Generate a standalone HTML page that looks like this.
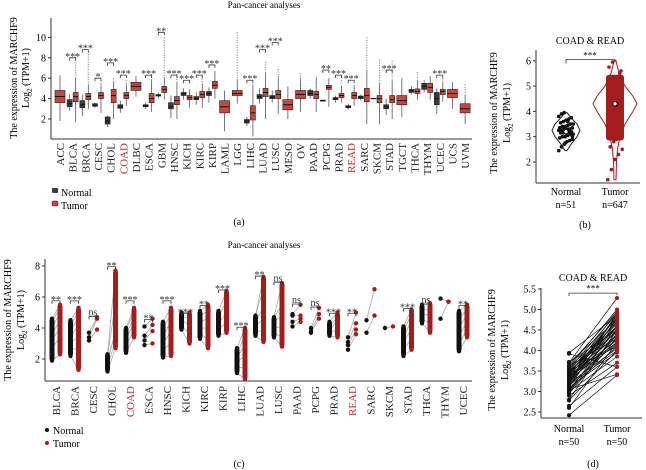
<!DOCTYPE html>
<html><head><meta charset="utf-8"><style>
html,body{margin:0;padding:0;background:#fff;}
svg{display:block;font-family:"Liberation Serif",serif;}
</style></head><body>
<svg id="fig" width="646" height="470" viewBox="0 0 646 470" xmlns="http://www.w3.org/2000/svg">
<g id="pa"></g>
<g id="pb"></g>
<g id="pc"></g>
<g id="pd"></g>
</svg>
<script>
const NS="http://www.w3.org/2000/svg";
function mk(parent,tag,attrs,txt){const e=document.createElementNS(NS,tag);for(const k in attrs)e.setAttribute(k,attrs[k]);if(txt!==undefined)e.textContent=txt;parent.appendChild(e);return e;}
const RED="#c8473d", DRED="#a51c1c", DARK="#3b3b3b";

// ---------- Panel A data ----------
const catsA=["ACC","BLCA","BRCA","CESC","CHOL","COAD","DLBC","ESCA","GBM","HNSC","KICH","KIRC","KIRP","LAML","LGG","LIHC","LUAD","LUSC","MESO","OV","PAAD","PCPG","PRAD","READ","SARC","SKCM","STAD","TGCT","THCA","THYM","UCEC","UCS","UVM"];
const normA=[null,[2.8,3.2,3.5,3.9,4.4],[2.3,3.1,3.4,3.8,4.4],[3.1,3.25,3.35,3.5,3.6],[1.2,1.5,1.8,2.2,2.3],[2.6,3.05,3.2,3.4,3.8],null,[3.0,3.2,3.3,3.4,3.6],[4.0,4.25,4.3,4.4,4.6],[2.1,3.0,3.2,3.6,4.3],[3.9,4.3,4.5,4.6,5.0],[3.4,3.9,4.0,4.2,4.6],[3.6,4.3,4.5,4.7,5.1],null,null,[1.3,1.6,1.8,1.95,2.2],[3.5,4.0,4.2,4.4,5.0],[3.6,4.0,4.15,4.3,4.8],null,null,[4.0,4.3,4.5,4.8,5.0],[3.7,3.75,3.8,3.85,3.9],[3.6,3.9,4.0,4.1,4.3],[2.9,3.1,3.2,3.3,3.5],[3.8,4.0,4.15,4.25,4.4],[3.95,3.98,4.0,4.02,4.05],[2.4,3.0,3.2,3.4,4.0],null,[4.4,4.6,4.8,4.9,5.2],[4.6,4.9,5.2,5.5,5.8],[2.5,3.4,4.0,4.6,5.0],null,null];
const tumA=[[1.8,3.6,4.2,4.8,6.3],[1.7,3.7,4.2,4.6,6.1],[3.0,3.9,4.2,4.5,5.4],[2.6,4.0,4.3,4.6,5.4],[2.0,3.6,4.3,4.9,5.7],[3.3,4.0,4.3,4.6,5.4],[4.2,4.8,5.2,5.6,6.2],[2.7,3.6,4.0,4.5,5.8],[3.9,4.6,4.9,5.2,6.1],[2.0,3.4,3.8,4.2,5.6],[3.1,3.9,4.1,4.3,4.9],[3.1,4.1,4.4,4.7,5.5],[4.0,5.0,5.3,5.7,6.7],[0.8,2.6,3.2,3.8,4.8],[3.5,4.3,4.5,4.8,5.9],[0.3,1.9,2.6,3.3,5.4],[2.0,4.2,4.6,5.0,6.5],[2.5,4.0,4.4,4.8,6.2],[2.0,2.9,3.4,3.9,5.2],[2.7,4.0,4.4,4.8,5.9],[2.7,4.0,4.4,4.7,6.1],[3.2,4.9,5.1,5.3,6.0],[3.6,4.1,4.3,4.5,5.2],[3.3,4.0,4.3,4.6,5.3],[1.5,3.7,4.3,5.0,6.8],[1.5,3.6,4.0,4.3,5.5],[2.0,3.6,3.9,4.3,5.8],[2.2,3.4,3.8,4.3,5.9],[3.9,4.5,4.7,4.95,5.8],[3.9,4.6,5.1,5.5,6.2],[3.7,4.4,4.7,4.9,5.6],[3.0,4.1,4.5,4.9,5.6],[1.5,2.6,3.0,3.5,4.4]];
const outHiA=[null,8.3,8.6,5.8,6.0,5.8,null,6.4,10.0,6.4,null,6.2,null,null,10.5,null,7.6,6.9,null,6.5,null,null,5.8,null,10.0,7.8,7.7,6.0,6.6,null,6.0,null,5.4];
const sigA=[null,"***","***","*","***","***",null,"***","**","***","***","***","***",null,null,"***","***","***",null,null,null,"**","***","***",null,null,"***",null,null,null,"***",null,null];
const sigLvA=[0,8.5,9.3,6.5,8.0,6.8,0,6.8,11.0,6.8,6.3,6.8,7.8,0,0,6.3,9.3,10.0,0,0,0,7.3,6.8,6.3,0,0,7.3,0,0,0,6.8,0,0];
const ticksA=[2,4,6,8,10];

(function(){
const g=document.getElementById('pa');
const xA=i=>60+i*12.66, yA=v=>119-(v-2)*10.2;
mk(g,'text',{x:264,y:8,'font-size':9,'text-anchor':'middle',},"Pan-cancer analyses");
mk(g,'line',{x1:51,y1:18,x2:51,y2:139,stroke:'#333','stroke-width':1,});
mk(g,'line',{x1:51,y1:139,x2:472,y2:139,stroke:'#333','stroke-width':1,});
ticksA.forEach(t=>{mk(g,'line',{x1:48,x2:51,y1:yA(t),y2:yA(t),stroke:'#333'});
 const tt=mk(g,'text',{x:46,y:yA(t)+3.5,'font-size':10,'text-anchor':'end'},String(t));
 });
const yt=mk(g,'text',{transform:'translate(17,78) rotate(-90)','font-size':10,'text-anchor':'middle'},"The expression of MARCHF9");

const yt2=mk(g,'text',{transform:'translate(29,78) rotate(-90)','font-size':10,'text-anchor':'middle'});
yt2.innerHTML='Log<tspan font-size="7" dy="3">2</tspan><tspan dy="-3"> (TPM+1)</tspan>';

function box(cx,w,d,fill,nm){
 const b=mk(g,'g',{});
 mk(b,'line',{x1:cx,x2:cx,y1:yA(d[0]),y2:yA(d[4]),stroke:'#555','stroke-width':0.8});
 mk(b,'rect',{x:cx-w/2,y:yA(d[3]),width:w,height:yA(d[1])-yA(d[3]),fill:fill,stroke:'#222','stroke-width':0.6});
 mk(b,'line',{x1:cx-w/2,x2:cx+w/2,y1:yA(d[2]),y2:yA(d[2]),stroke:'#111','stroke-width':1});
}
catsA.forEach((c,i)=>{
 const cx=xA(i);
 const n=normA[i], t=tumA[i];
 let tx=cx;
 if(n){box(cx-3,5,n,DARK,'box-normal-'+c.toLowerCase());tx=cx+3;box(tx,5,t,RED,'box-tumor-'+c.toLowerCase());}
 else box(cx,10,t,RED,'box-tumor-'+c.toLowerCase());
 if(outHiA[i]){const o=mk(g,'line',{x1:tx,x2:tx,y1:yA(outHiA[i]),y2:yA(t[4]),stroke:'#888','stroke-width':1.2,'stroke-dasharray':'1 1.5'});
  }
 if(sigA[i]){const ly=yA(sigLvA[i]-0.5);
  const br=mk(g,'path',{d:`M${cx-3},${ly+3}V${ly}H${cx+3}V${ly+3}`,fill:'none',stroke:'#333','stroke-width':0.8});
  
  const st=mk(g,'text',{x:cx,y:ly+2,'font-size':10,'text-anchor':'middle',fill:'#333'},sigA[i]);
  }
 const lb=mk(g,'text',{transform:`translate(${cx+4},143) rotate(-90)`,'font-size':11,'text-anchor':'end',fill:(c==="COAD"||c==="READ")?'#c0282d':'#222'},c);
 
});
const l1=mk(g,'g',{});
mk(l1,'rect',{x:52,y:188,width:6,height:5,fill:DARK,rx:1});mk(l1,'text',{x:61,y:196,'font-size':10},"Normal");
const l2=mk(g,'g',{});
mk(l2,'rect',{x:52,y:201,width:6,height:5,fill:RED,stroke:'#222','stroke-width':0.5,rx:1});mk(l2,'text',{x:61,y:209,'font-size':10},"Tumor");
const pl=mk(g,'text',{x:239,y:225,'font-size':10,'text-anchor':'middle'},"(a)");
})();

// ---------- Panel B data ----------
const normB=[2.45,2.6,2.7,2.8,2.85,2.9,2.95,3.0,3.0,3.05,3.1,3.1,3.15,3.15,3.2,3.2,3.2,3.25,3.25,3.3,3.3,3.3,3.35,3.35,3.4,3.4,3.45,3.5,3.5,3.55,3.6,3.65,3.7,3.75,3.8,3.9,3.95,3.1,3.2,3.0,3.3,3.4,2.75,3.6,3.15];
const tumOutB=[1.3,1.7,2.1,2.3,2.5,2.6,2.8,2.95,5.6,5.75,5.95,2.9,5.5];
const tumRangeB=[2.85,5.45];
const medB=[3.2,4.3];
const violinVals=[1.3,2.0,2.5,3.0,3.5,4.0,4.3,4.6,5.0,5.5,6.0];
const violinTumW=[1,1.5,2.5,5,10,18,22,18,10,4,1];
const violinNormVals=[2.45,2.7,3.0,3.25,3.5,3.75,3.95];
const violinNormW=[1,5,11,14,11,5,1];
const ticksB=[2,3,4,5,6];

(function(){
const g=document.getElementById('pb');
const yB=v=>162-(v-2)*25.3, xN=566, xT=615;
mk(g,'text',{x:590,y:44,'font-size':10,'text-anchor':'middle',},"COAD & READ");
mk(g,'line',{x1:536,y1:50,x2:536,y2:183,stroke:'#333',});
mk(g,'line',{x1:536,y1:183,x2:640,y2:183,stroke:'#333',});
ticksB.forEach(t=>{mk(g,'line',{x1:533,x2:536,y1:yB(t),y2:yB(t),stroke:'#333'});
 const tt=mk(g,'text',{x:531,y:yB(t)+3.5,'font-size':10,'text-anchor':'end'},String(t));
 });
const a=mk(g,'text',{transform:'translate(497,113) rotate(-90)','font-size':10,'text-anchor':'middle'},"The expression of MARCHF9");

const b=mk(g,'text',{transform:'translate(510,113) rotate(-90)','font-size':10,'text-anchor':'middle'});
b.innerHTML='Log<tspan font-size="7" dy="3">2</tspan><tspan dy="-3"> (TPM+1)</tspan>';

function violin(cx,vals,ws,col,nm){let d='M'+cx+','+yB(vals[0]);
 vals.forEach((v,i)=>d+=' L'+(cx+ws[i])+','+yB(v));
 for(let i=vals.length-1;i>=0;i--)d+=' L'+(cx-ws[i])+','+yB(vals[i]);
 const p=mk(g,'path',{d:d+'Z',fill:'none',stroke:col,'stroke-width':1});}
violin(xN,violinNormVals,violinNormW,'#222','violin-normal');
violin(xT,violinVals,violinTumW,DRED,'violin-tumor');
normB.forEach((v,i)=>{const dx=((i*37)%17-8)*0.9;
 const c=mk(g,'circle',{cx:xN+dx,cy:yB(v),r:1.8,fill:'#111'});});
const r=mk(g,'rect',{x:xT-9,y:yB(tumRangeB[1]),width:18,height:yB(tumRangeB[0])-yB(tumRangeB[1]),fill:DRED,rx:3});

tumOutB.forEach((v,i)=>{const dx=((i*29)%13-6)*1.2;
 const c=mk(g,'circle',{cx:xT+dx,cy:yB(v),r:1.8,fill:DRED});});
[xN,xT].forEach((x,i)=>{const m=mk(g,'circle',{cx:x,cy:yB(medB[i]),r:2.2,fill:'#fff',stroke:'#000','stroke-width':1});});
const br=mk(g,'path',{d:`M${xN},${yB(5.9)}V${yB(6.05)}H${xT}V${yB(5.95)}`,fill:'none',stroke:'#333','stroke-width':0.8});

const s=mk(g,'text',{x:590,y:yB(6.1),'font-size':9,'text-anchor':'middle'},"***");
[["Normal",xN,195],["n=51",xN,208],["Tumor",xT,195],["n=647",xT,208]].forEach(q=>{const t=mk(g,'text',{x:q[1],y:q[2],'font-size':10,'text-anchor':'middle'},q[0]);});
const pl=mk(g,'text',{x:585,y:228,'font-size':10,'text-anchor':'middle'},"(b)");
})();

// ---------- Panel C data ----------
const catsC=["BLCA","BRCA","CESC","CHOL","COAD","ESCA","HNSC","KICH","KIRC","KIRP","LIHC","LUAD","LUSC","PAAD","PCPG","PRAD","READ","SARC","SKCM","STAD","THCA","THYM","UCEC"];
const normC=[[1.9,2.7,3.2,3.6,4.0,4.4,4.6],[2.2,2.6,3.0,3.4,3.8,4.2,4.5],[3.2,3.4,3.7],[1.2,1.5,1.8,2.0,2.2,2.3],[2.4,2.9,3.3,3.6,3.9,4.0],[2.9,3.2,3.5,4.1],[2.1,2.6,3.0,3.5,4.0,4.4],[3.9,4.2,4.5,4.7,5.0],[3.3,3.6,4.0,4.4,4.8,5.1],[3.5,3.9,4.3,4.7,5.1],[1.1,1.5,1.8,2.1,2.4,2.7],[3.5,3.8,4.1,4.4,4.8],[3.4,3.7,4.0,4.4,4.7],[4.1,4.4,4.8,4.9],[3.7,3.8,4.0],[3.5,3.7,3.9,4.1,4.4],[2.6,2.9,3.1,3.4],[3.7,4.5],[4.0],[2.2,2.6,3.0,3.4,3.8,4.1],[4.3,4.6,4.9,5.2,5.5],[4.6,5.9],[2.5,3.0,3.5,4.0,4.6,5.1]];
const tumC=[[2.3,3.4,4.0,4.5,5.0,5.3,5.5],[1.3,2.7,3.5,4.2,4.7,5.0,5.3],[3.9,4.6,4.7],[2.7,3.2,3.8,3.7,5.6,7.7],[3.4,3.8,4.3,4.7,5.0,5.3],[3.0,3.8,4.2,4.6],[2.2,3.0,3.8,4.4,4.9,5.3],[3.0,3.6,4.2,4.7,5.0],[2.7,3.3,4.0,4.6,5.1,5.5],[3.7,4.4,5.0,5.8,6.4],[0.7,1.4,2.2,2.9,3.5,4.0],[3.1,3.8,4.6,5.4,6.6,7.3],[2.8,3.4,4.1,4.8,5.5,6.9],[4.4,4.6,4.8,5.5],[4.6,4.9,5.3],[3.4,3.9,4.4,4.7,5.0],[3.6,3.9,4.3,5.0],[4.8,6.5],[4.1],[2.6,3.3,4.0,4.5,4.9,5.2],[3.7,4.3,4.8,5.2,5.6],[5.7,5.7],[3.4,3.9,4.4,4.9,5.2,5.5]];
const sigC=["**","***","ns","**","***","**","***","***","**","***","***","**","ns","ns","ns","***","**",null,null,"***","ns",null,"**"];
const sigLvC=[6.0,6.0,5.0,8.2,6.0,4.8,6.0,5.2,5.7,6.7,4.3,7.6,7.2,5.8,5.6,5.2,5.2,0,0,5.5,5.8,0,5.7];
const ticksC=[2,4,6,8];

(function(){
const g=document.getElementById('pc');
const xC=i=>56+i*18.5, yC=v=>359-(v-2)*15.5;
mk(g,'text',{x:264,y:248,'font-size':9,'text-anchor':'middle',},"Pan-cancer analyses");
mk(g,'line',{x1:45,y1:259,x2:45,y2:381,stroke:'#333',});
mk(g,'line',{x1:45,y1:381,x2:472,y2:381,stroke:'#333',});
ticksC.forEach(t=>{mk(g,'line',{x1:42,x2:45,y1:yC(t),y2:yC(t),stroke:'#333'});
 const tt=mk(g,'text',{x:40,y:yC(t)+3.5,'font-size':10,'text-anchor':'end'},String(t));
 });
const a=mk(g,'text',{transform:'translate(11,320) rotate(-90)','font-size':10,'text-anchor':'middle'},"The expression of MARCHF9");

const b=mk(g,'text',{transform:'translate(24,320) rotate(-90)','font-size':10,'text-anchor':'middle'});
b.innerHTML='Log<tspan font-size="7" dy="3">2</tspan><tspan dy="-3"> (TPM+1)</tspan>';

catsC.forEach((c,i)=>{
 const cx=xC(i), nx=cx-4, tx=cx+4, N=normC[i], T=tumC[i];
 const grp=mk(g,'g',{});
 for(let j=0;j<Math.max(N.length,T.length);j++){const nv=N[Math.min(j,N.length-1)],tv=T[Math.min(j,T.length-1)];
  mk(grp,'line',{x1:nx,x2:tx,y1:yC(nv),y2:yC(tv),stroke:'#aaa','stroke-width':0.8});}
 if(N.length>=5)mk(grp,'rect',{x:nx-2.5,y:yC(Math.max(...N)),width:5,height:yC(Math.min(...N))-yC(Math.max(...N)),fill:'#111',rx:2});
 if(T.length>=5)mk(grp,'rect',{x:tx-2.5,y:yC(Math.max(...T)),width:5,height:yC(Math.min(...T))-yC(Math.max(...T)),fill:DRED,rx:2});
 N.forEach(v=>mk(grp,'circle',{cx:nx,cy:yC(v),r:2.2,fill:'#111'}));
 T.forEach(v=>mk(grp,'circle',{cx:tx,cy:yC(v),r:2.2,fill:DRED}));
 if(sigC[i]){const ly=yC(sigLvC[i]-0.25);
  const br=mk(g,'path',{d:`M${nx},${ly+3}V${ly}H${tx}V${ly+3}`,fill:'none',stroke:'#333','stroke-width':0.8});
  
  const st=mk(g,'text',{x:cx,y:ly-(sigC[i]==="ns"?1:-2),'font-size':10,'text-anchor':'middle',fill:'#333'},sigC[i]);
  }
 const lb=mk(g,'text',{transform:`translate(${cx+4},386) rotate(-90)`,'font-size':11,'text-anchor':'end',fill:(c==="COAD"||c==="READ")?'#c0282d':'#222'},c);
 
});
const l1=mk(g,'g',{});
mk(l1,'circle',{cx:47,cy:430,r:2,fill:'#111'});mk(l1,'text',{x:53,y:434,'font-size':10},"Normal");
const l2=mk(g,'g',{});
mk(l2,'circle',{cx:47,cy:443,r:2,fill:DRED});mk(l2,'text',{x:53,y:447,'font-size':10},"Tumor");
const pl=mk(g,'text',{x:239,y:467,'font-size':10,'text-anchor':'middle'},"(c)");
})();

// ---------- Panel D data ----------
const normD=[2.42,2.6,2.65,2.78,2.8,2.9,2.95,3.0,3.0,3.05,3.05,3.1,3.1,3.15,3.15,3.2,3.2,3.2,3.25,3.25,3.3,3.3,3.3,3.35,3.35,3.4,3.4,3.4,3.45,3.45,3.5,3.5,3.5,3.55,3.55,3.6,3.6,3.62,3.65,3.7,3.7,3.72,3.05,3.15,3.25,3.35,2.98,3.48,3.92,3.94];
const tumD=[3.4,4.2,3.6,4.0,4.5,3.7,4.3,4.6,3.85,4.4,4.1,4.8,3.95,4.7,4.2,4.5,4.9,4.05,4.3,4.6,4.4,4.75,4.15,4.85,4.5,4.95,4.25,4.6,4.35,4.7,4.8,4.45,4.1,4.9,4.55,5.0,4.65,4.3,4.95,4.75,5.28,4.5,3.42,4.0,4.85,4.2,4.4,4.6,3.6,4.85];
const ticksD=[2.5,3.0,3.5,4.0,4.5,5.0,5.5];

(function(){
const g=document.getElementById('pd');
const yD=v=>412-(v-2.5)*41, xN=569, xT=617;
mk(g,'text',{x:593,y:281,'font-size':10,'text-anchor':'middle',},"COAD & READ");
mk(g,'line',{x1:541,y1:288,x2:541,y2:418,stroke:'#333',});
mk(g,'line',{x1:541,y1:418,x2:642,y2:418,stroke:'#333',});
ticksD.forEach(t=>{mk(g,'line',{x1:538,x2:541,y1:yD(t),y2:yD(t),stroke:'#333'});
 const tt=mk(g,'text',{x:536,y:yD(t)+3.5,'font-size':10,'text-anchor':'end'},t.toFixed(1));
 });
const a=mk(g,'text',{transform:'translate(495,350) rotate(-90)','font-size':10,'text-anchor':'middle'},"The expression of MARCHF9");

const b=mk(g,'text',{transform:'translate(508,350) rotate(-90)','font-size':10,'text-anchor':'middle'});
b.innerHTML='Log<tspan font-size="7" dy="3">2</tspan><tspan dy="-3"> (TPM+1)</tspan>';

normD.forEach((v,i)=>{const l=mk(g,'line',{x1:xN,x2:xT,y1:yD(v),y2:yD(tumD[i]),stroke:'#111','stroke-width':0.7});
 });
normD.forEach(v=>{const c=mk(g,'circle',{cx:xN,cy:yD(v),r:2,fill:'#111'});});
tumD.forEach(v=>{const c=mk(g,'circle',{cx:xT,cy:yD(v),r:2,fill:DRED});});
const br=mk(g,'path',{d:`M${xN},${yD(5.33)}V${yD(5.4)}H${xT}V${yD(5.35)}`,fill:'none',stroke:'#333','stroke-width':0.8});

const s=mk(g,'text',{x:593,y:yD(5.44),'font-size':9,'text-anchor':'middle'},"***");
[["Normal",xN,432],["n=50",xN,445],["Tumor",xT,432],["n=50",xT,445]].forEach(q=>{const t=mk(g,'text',{x:q[1],y:q[2],'font-size':10,'text-anchor':'middle'},q[0]);});
const pl=mk(g,'text',{x:593,y:467,'font-size':10,'text-anchor':'middle'},"(d)");
})();
</script>
</body></html>
